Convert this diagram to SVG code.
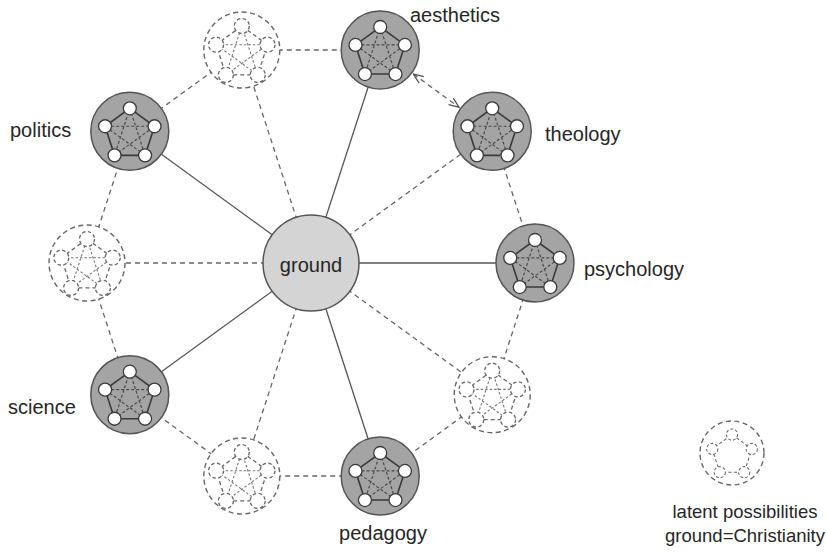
<svg xmlns="http://www.w3.org/2000/svg" xmlns:xlink="http://www.w3.org/1999/xlink" width="826" height="553" viewBox="0 0 826 553">
<style>
text{font-family:"Liberation Sans",Arial,sans-serif;font-size:20px;fill:#262626}
.legendText{font-size:18.5px}
.solid{stroke:#555;stroke-width:1.3;fill:none}
.dash{stroke:#666;stroke-width:1.3;fill:none;stroke-dasharray:5 4}
.nodeBg{fill:#a4a4a4;stroke:#555;stroke-width:1.5}
.pent{fill:none;stroke:#3a3a3a;stroke-width:1.6}
.star{fill:none;stroke:#4a4a4a;stroke-width:1.2;stroke-dasharray:3 2}
.dot{fill:#fff;stroke:#3a3a3a;stroke-width:1.3}
.lOuter{fill:#fff;stroke:#666;stroke-width:1.4;stroke-dasharray:5 3.5}
.lPent{fill:none;stroke:#666;stroke-width:1.3;stroke-dasharray:4 3}
.lStar{fill:none;stroke:#777;stroke-width:1.1;stroke-dasharray:2.5 2}
.lDot{fill:#fff;stroke:#666;stroke-width:1.3;stroke-dasharray:3.5 2.5}
</style>
<defs>
<marker id="arr" viewBox="0 0 12 10" refX="11" refY="5" markerWidth="12" markerHeight="10" markerUnits="userSpaceOnUse" orient="auto-start-reverse">
<path d="M1,1 L11,5 L1,9" fill="none" stroke="#555" stroke-width="1.3"/>
</marker>
<g id="solidNode">
<circle r="39" class="nodeBg"/>
<path class="pent" d="M0,-23 L24.73,-5.03 L15.28,24.03 L-15.28,24.03 L-24.73,-5.03 Z"/>
<path class="star" d="M0,-23 L15.28,24.03 L-24.73,-5.03 L24.73,-5.03 L-15.28,24.03 Z"/>
<circle class="dot" cx="0" cy="-23" r="6.5"/>
<circle class="dot" cx="24.73" cy="-5.03" r="6.5"/>
<circle class="dot" cx="15.28" cy="24.03" r="6.5"/>
<circle class="dot" cx="-15.28" cy="24.03" r="6.5"/>
<circle class="dot" cx="-24.73" cy="-5.03" r="6.5"/>
</g>
<g id="latentNode">
<circle r="38" class="lOuter"/>
<path class="lPent" d="M0,-24 L25.7,-5.3 L15.9,24.9 L-15.9,24.9 L-25.7,-5.3 Z"/>
<path class="lStar" d="M0,-24 L15.9,24.9 L-25.7,-5.3 L25.7,-5.3 L-15.9,24.9 Z"/>
<circle class="lDot" cx="0" cy="-24" r="7.5"/>
<circle class="lDot" cx="25.7" cy="-5.3" r="7.5"/>
<circle class="lDot" cx="15.9" cy="24.9" r="7.5"/>
<circle class="lDot" cx="-15.9" cy="24.9" r="7.5"/>
<circle class="lDot" cx="-25.7" cy="-5.3" r="7.5"/>
</g>
</defs>
<rect width="826" height="553" fill="#fff"/>
<g id="connectors">
<line class="solid" x1="311" y1="263" x2="380.2" y2="50"/>
<line class="solid" x1="311" y1="263" x2="535" y2="263"/>
<line class="solid" x1="311" y1="263" x2="380.2" y2="476"/>
<line class="solid" x1="311" y1="263" x2="129.8" y2="394.7"/>
<line class="solid" x1="311" y1="263" x2="129.8" y2="131.3"/>
<line class="dash" x1="311" y1="263" x2="492.2" y2="131.3"/>
<line class="dash" x1="311" y1="263" x2="241.8" y2="50"/>
<line class="dash" x1="311" y1="263" x2="87" y2="263"/>
<line class="dash" x1="311" y1="263" x2="241.8" y2="476"/>
<line class="dash" x1="311" y1="263" x2="492.2" y2="394.7"/>
<line class="dash" x1="129.8" y1="131.3" x2="241.8" y2="50"/>
<line class="dash" x1="241.8" y1="50" x2="380.2" y2="50"/>
<line class="dash" x1="413.4" y1="74.1" x2="459" y2="107.2" marker-start="url(#arr)" marker-end="url(#arr)"/>
<line class="dash" x1="492.2" y1="131.3" x2="535" y2="263"/>
<line class="dash" x1="535" y1="263" x2="492.2" y2="394.7"/>
<line class="dash" x1="492.2" y1="394.7" x2="380.2" y2="476"/>
<line class="dash" x1="380.2" y1="476" x2="241.8" y2="476"/>
<line class="dash" x1="241.8" y1="476" x2="129.8" y2="394.7"/>
<line class="dash" x1="129.8" y1="394.7" x2="87" y2="263"/>
<line class="dash" x1="87" y1="263" x2="129.8" y2="131.3"/>
</g>
<g id="ground">
<circle cx="311" cy="263" r="48" fill="#d4d4d4" stroke="#555" stroke-width="1.5"/>
<text x="311" y="272" text-anchor="middle">ground</text>
</g>
<g id="aesthetics"><use xlink:href="#solidNode" x="380.2" y="50"/><text x="410" y="22">aesthetics</text></g>
<g id="theology"><use xlink:href="#solidNode" x="492.2" y="131.3"/><text x="545" y="141">theology</text></g>
<g id="psychology"><use xlink:href="#solidNode" x="535" y="263"/><text x="584" y="276">psychology</text></g>
<g id="pedagogy"><use xlink:href="#solidNode" x="380.2" y="476"/><text x="383" y="540" text-anchor="middle">pedagogy</text></g>
<g id="science"><use xlink:href="#solidNode" x="129.8" y="394.7"/><text x="8" y="414">science</text></g>
<g id="politics"><use xlink:href="#solidNode" x="129.8" y="131.3"/><text x="10" y="137">politics</text></g>
<g id="latent-top"><use xlink:href="#latentNode" x="241.8" y="50"/></g>
<g id="latent-left"><use xlink:href="#latentNode" x="87" y="263"/></g>
<g id="latent-bottom-left"><use xlink:href="#latentNode" x="241.8" y="476"/></g>
<g id="latent-bottom-right"><use xlink:href="#latentNode" x="492.2" y="394.7"/></g>
<g id="legend">
<circle cx="732" cy="453" r="32" class="lOuter"/>
<g transform="translate(732,453) scale(0.8)">
<path class="lPent" d="M0,-23 L24.73,-5.03 L15.28,24.03 L-15.28,24.03 L-24.73,-5.03 Z"/>
<circle class="lDot" cx="0" cy="-23" r="7"/>
<circle class="lDot" cx="24.73" cy="-5.03" r="7"/>
<circle class="lDot" cx="15.28" cy="24.03" r="7"/>
<circle class="lDot" cx="-15.28" cy="24.03" r="7"/>
<circle class="lDot" cx="-24.73" cy="-5.03" r="7"/>
</g>
<text class="legendText" x="745" y="518" text-anchor="middle">latent possibilities</text>
<text class="legendText" x="745" y="542" text-anchor="middle">ground=Christianity</text>
</g>
</svg>
